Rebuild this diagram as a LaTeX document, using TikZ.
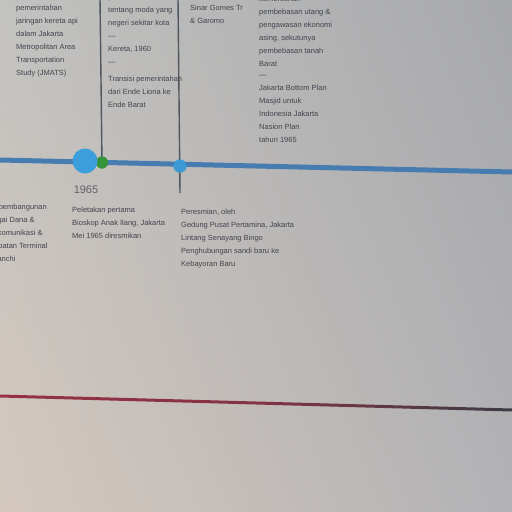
\documentclass[tikz,border=0pt]{standalone}
\usepackage{fontspec}
\setsansfont{Liberation Sans}
\usetikzlibrary{calc,shadings}
\definecolor{bgA}{RGB}{194,194,192}
\definecolor{bgB}{RGB}{167,168,171}
\definecolor{bgC}{RGB}{212,200,190}
\definecolor{bgD}{RGB}{178,178,181}
\definecolor{txt}{RGB}{66,68,78}
\definecolor{tlblue}{RGB}{70,124,176}
\definecolor{bigblue}{RGB}{60,158,218}
\definecolor{dotgreen}{RGB}{52,148,58}
\definecolor{vline}{RGB}{78,86,96}
\definecolor{redA}{RGB}{150,48,68}
\definecolor{redB}{RGB}{60,60,70}
\tikzset{
  col/.style={anchor=north west, inner sep=0pt, align=left, text=txt,
    font=\sffamily\fontsize{7.5}{13}\selectfont},
  yearlbl/.style={text=txt!85!white, inner sep=0pt, font=\sffamily\fontsize{11}{12}\selectfont},
  axis/.style={draw=tlblue, line width=5pt},
  tick/.style={draw=vline, line width=1.4pt},
  bigdot/.style={circle, fill=bigblue, minimum size=25pt, inner sep=0pt},
  gdot/.style={circle, fill=dotgreen, minimum size=12pt, inner sep=0pt},
  sdot/.style={circle, fill=bigblue!85!tlblue, minimum size=13pt, inner sep=0pt}
}
\begin{document}
\begin{tikzpicture}[x=1pt,y=-1pt]
\useasboundingbox (0,0) rectangle (512,512);
\clip (0,0) rectangle (512,512);
\shade[upper left=bgA, upper right=bgB, lower left=bgC, lower right=bgD] (0,0) rectangle (512,512);

% red line
\shade[left color=redA, right color=redB, middle color=redA!80!redB] (0,394.5) -- (512,408.5) -- (512,411.5) -- (0,397.5) -- cycle;

% timeline axis
\coordinate (tlL) at (0,160);
\coordinate (tlR) at (512,172);
\draw[axis] (tlL) -- (tlR);

% vertical ticks
\coordinate (v1top) at (100,-2);
\coordinate (v2top) at (178,-2);
\coordinate (v2bot) at (180,193);
\node[gdot] (g1) at (102,162.5) {};
\node[sdot] (s1) at (180,166) {};
\draw[tick] (v1top) -- (g1.center);
\draw[tick] (v2top) -- (v2bot);
\node[gdot] at (102,162.5) {};
\node[sdot] at (180,166) {};
\node[bigdot] (b1) at (85,161) {};

\node[yearlbl] (yr) at (86,190) {1965};

% top text columns
\node[col] (c1) at (16,5) {pemerintahan\\jaringan kereta api\\dalam Jakarta\\Metropolitan Area\\Transportation\\Study (JMATS)};
\node[col] (c2) at (108,-6) {pemerintah kota dan\\tentang moda yang\\negeri sekitar kota\\---\\Kereta, 1960\\---};
\node[col] (c2b) at (108,76) {Transisi pemerintahan\\dari Ende Liona ke\\Ende Barat};
\node[col] (c3) at (190,5) {Sinar Gomes Tr\\\& Garomo};
\node[col] (c4) at (259,-4) {kementerian\\pembebasan utang \&\\pengawasan ekonomi\\asing, sekutunya\\pembebasan tanah\\Barat};
\node[col] (c4b) at (259,75) {---\\Jakarta Bottom Plan\\Masjid untuk\\Indonesia Jakarta\\Nasion Plan\\tahun 1965};

% bottom text columns
\node[col] (d1) at (-16,204) {dan pembangunan\\Sungai Dana \&\\Telekomunikasi \&\\Jembatan Terminal\\di Ranchi};
\node[col] (d2) at (72,207) {Peletakan pertama\\Bioskop Anak Ilang, Jakarta\\Mei 1965 diresmikan};
\node[col] (d3) at (181,209) {Peresmian, oleh\\Gedung Pusat Pertamina, Jakarta\\Lintang Senayang Bingo\\Penghubungan sandi baru ke\\Kebayoran Baru};
\end{tikzpicture}
\end{document}
